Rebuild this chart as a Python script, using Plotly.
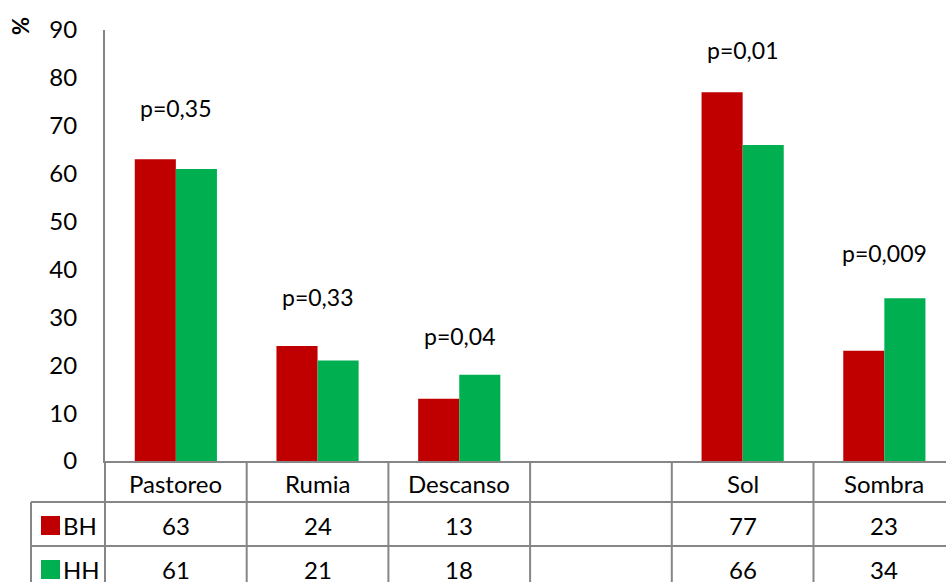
import plotly.graph_objects as go

categories = ["Pastoreo", "Rumia", "Descanso", "", "Sol", "Sombra"]
bh_values = [63, 24, 13, None, 77, 23]
hh_values = [61, 21, 18, None, 66, 34]
p_labels = ["p=0,35", "p=0,33", "p=0,04", "", "p=0,01", "p=0,009"]
p_heights = [73.7, 34.2, 26.1, None, 85.8, 43.4]
series_names = ["BH", "HH"]
y_ticks = list(range(0, 91, 10))

RED = "#C00000"
GREEN = "#00B050"
GRID = "#868686"
FONT = "Lato"

W, H = 946, 582
L, R, T, B = 105, 0, 30, 121
PW, PH = W - L - R, H - T - B


def px_x(px):
    return (px - L) / PW


def px_y(py):
    return (H - B - py) / PH


pos = list(range(len(categories)))

fig = go.Figure()
fig.add_trace(go.Bar(x=pos, y=bh_values, name="BH", marker=dict(color=RED, line=dict(width=0))))
fig.add_trace(go.Bar(x=pos, y=hh_values, name="HH", marker=dict(color=GREEN, line=dict(width=0))))

annotations = []
# p-value labels
for i, (lab, h) in enumerate(zip(p_labels, p_heights)):
    if lab:
        annotations.append(dict(x=i, y=h, xref="x", yref="y", text=lab, showarrow=False,
                                xanchor="center", yanchor="middle",
                                font=dict(family=FONT, size=23, color="black")))
# data table header and values
for i, c in enumerate(categories):
    if c:
        annotations.append(dict(x=i, y=px_y(483), xref="x", yref="paper", text=c, showarrow=False,
                                xanchor="center", yanchor="middle",
                                font=dict(family=FONT, size=24, color="black")))
    for vals, yy in ((bh_values, 525), (hh_values, 569)):
        if vals[i] is not None:
            annotations.append(dict(x=i, y=px_y(yy), xref="x", yref="paper", text=str(vals[i]),
                                    showarrow=False, xanchor="center", yanchor="middle",
                                    font=dict(family=FONT, size=24, color="black")))
# row labels
for name, yy in zip(series_names, (525, 569)):
    annotations.append(dict(x=px_x(61), y=px_y(yy), xref="paper", yref="paper", text=name,
                            xanchor="left", yanchor="middle", showarrow=False,
                            font=dict(family=FONT, size=24, color="black")))
# % axis title
annotations.append(dict(x=px_x(21), y=px_y(26), xref="paper", yref="paper", text="<b>%</b>",
                        textangle=-90, xanchor="center", yanchor="middle", showarrow=False,
                        font=dict(family=FONT, size=22, color="black")))

shapes = []
line = dict(color=GRID, width=2)
bottom = px_y(600)
# horizontal table lines
for yy in (502, 546):
    shapes.append(dict(type="line", xref="paper", yref="paper", x0=px_x(31), x1=1, y0=px_y(yy), y1=px_y(yy), line=line))
# left borders
shapes.append(dict(type="line", xref="paper", yref="paper", x0=px_x(31), x1=px_x(31), y0=px_y(502), y1=bottom, line=line))
shapes.append(dict(type="line", xref="paper", yref="paper", x0=0, x1=0, y0=0, y1=bottom, line=line))
# category boundaries
for k in range(len(categories) - 1):
    shapes.append(dict(type="line", xref="x", yref="paper", x0=k + 0.5, x1=k + 0.5, y0=0, y1=bottom, line=line))
# legend keys
for col, yy in ((RED, 516), (GREEN, 560)):
    shapes.append(dict(type="rect", xref="paper", yref="paper", x0=px_x(41), x1=px_x(60),
                       y0=px_y(yy + 19), y1=px_y(yy), fillcolor=col, line=dict(width=0)))

fig.update_layout(
    width=W, height=H,
    margin=dict(l=L, r=R, t=T, b=B, pad=0),
    paper_bgcolor="white", plot_bgcolor="white",
    barmode="group", bargap=0.42, bargroupgap=0,
    showlegend=False,
    font=dict(family=FONT, size=24, color="black"),
    annotations=annotations,
    shapes=shapes,
    xaxis=dict(range=[-0.5, -0.5 + PW / 141.7], showticklabels=False, ticks="", showgrid=False,
               zeroline=False, showline=True, linecolor=GRID, linewidth=2, fixedrange=True),
    yaxis=dict(range=[0, 90], tickvals=y_ticks, ticks="", showgrid=False, zeroline=False,
               showline=True, linecolor=GRID, linewidth=2, ticklabelstandoff=21,
               tickfont=dict(family=FONT, size=24, color="black")),
)

fig.write_html("out.html")
